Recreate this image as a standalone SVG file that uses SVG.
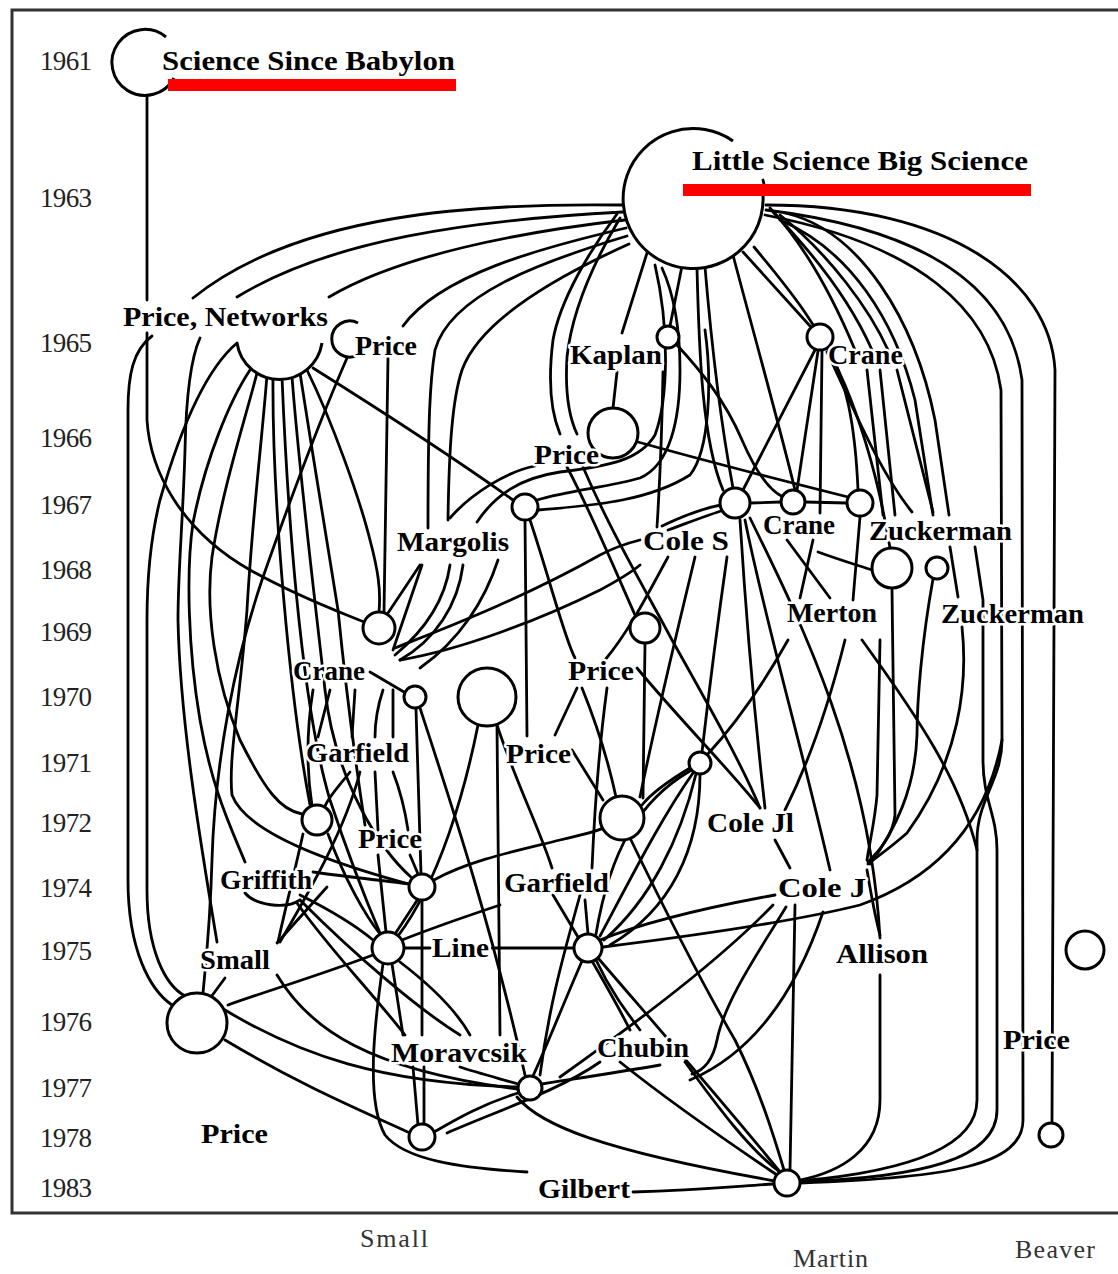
<svg xmlns="http://www.w3.org/2000/svg" width="1118" height="1274" viewBox="0 0 1118 1274">
<style>
.e{fill:none;stroke:#000;stroke-width:2.8;stroke-linecap:round}
.n{fill:#fff;stroke:#000;stroke-width:3}
.lb{font-family:"Liberation Serif",serif;font-size:28px;font-weight:bold;fill:#000;stroke:#fff;stroke-width:5px;paint-order:stroke;stroke-linejoin:round}
.yr{font-family:"Liberation Serif",serif;font-size:27px;fill:#222}
.ax{font-family:"Liberation Serif",serif;font-size:26px;fill:#333}
.hl{fill:#ff0000}
</style>
<rect width="1118" height="1274" fill="#fff"/>
<g id="frame"><path d="M1118,10 H12 V1213 H1118" fill="none" stroke="#333" stroke-width="3"/></g>
<g id="years">
<text class="yr" x="40" y="70" textLength="52">1961</text>
<text class="yr" x="40" y="207" textLength="52">1963</text>
<text class="yr" x="40" y="352" textLength="52">1965</text>
<text class="yr" x="40" y="447" textLength="52">1966</text>
<text class="yr" x="40" y="514" textLength="52">1967</text>
<text class="yr" x="40" y="579" textLength="52">1968</text>
<text class="yr" x="40" y="641" textLength="52">1969</text>
<text class="yr" x="40" y="706" textLength="52">1970</text>
<text class="yr" x="40" y="772" textLength="52">1971</text>
<text class="yr" x="40" y="832" textLength="52">1972</text>
<text class="yr" x="40" y="897" textLength="52">1974</text>
<text class="yr" x="40" y="960" textLength="52">1975</text>
<text class="yr" x="40" y="1031" textLength="52">1976</text>
<text class="yr" x="40" y="1097" textLength="52">1977</text>
<text class="yr" x="40" y="1147" textLength="52">1978</text>
<text class="yr" x="40" y="1197" textLength="52">1983</text>
</g>
<g id="connectors" class="e">
<path d="M147,95 L147,300"/>
<path d="M147,333 L147,420 C150,470 180,530 250,570 C300,598 340,612 364,622"/>
<path d="M152,336 C133,350 128,375 128,410 L128,880 C128,950 150,990 172,1005"/>
<path d="M237,343 C205,370 180,430 160,500 C150,540 147,580 147,620 L147,890 C147,950 165,985 185,996"/>
<path d="M200,338 C190,360 186,400 185,450 C183,520 178,570 178,620 C180,720 200,840 217,942"/>
<path d="M250,370 C230,400 205,460 193,523 C186,570 188,650 200,720 C212,790 232,830 245,862"/>
<path d="M257,373 C245,420 222,490 212,557 C205,610 215,680 240,740 C265,790 280,810 302,814"/>
<path d="M267,375 C262,440 252,520 247,610 C240,700 228,760 232,795 C245,830 320,860 409,884"/>
<path d="M273,377 C272,500 290,700 310,805"/>
<path d="M282,377 C287,500 300,700 330,800 C350,860 368,905 380,933"/>
<path d="M292,377 C300,480 315,600 325,690 C335,780 380,850 412,878"/>
<path d="M300,373 C313,457 330,560 338,610 C345,680 355,760 365,825"/>
<path d="M307,370 C333,423 360,500 370,540 C378,570 381,590 379,612"/>
<path d="M313,368 C380,410 450,455 513,500"/>
<path d="M347,358 C320,420 290,500 262,580 C235,660 215,760 212,860 C210,930 205,970 203,993"/>
<path d="M388,358 L384,612"/>
<path d="M622,205 C480,203 300,212 193,298"/>
<path d="M623,212 C470,220 330,240 237,297"/>
<path d="M625,220 C520,232 400,255 329,297"/>
<path d="M626,228 C540,248 440,275 403,326"/>
<path d="M627,236 C540,262 450,295 435,350 C430,380 428,420 428,528"/>
<path d="M629,244 C560,275 480,320 462,370 C452,400 449,450 448,520"/>
<path d="M617,214 C590,250 560,300 553,340 C548,380 550,410 560,434"/>
<path d="M620,218 C595,260 572,310 567,357 C565,390 568,415 577,434"/>
<path d="M567,467 C590,510 615,570 635,615"/>
<path d="M583,467 C610,530 640,580 672,640 C700,690 740,760 760,808"/>
<path d="M450,518 C470,495 505,472 535,466"/>
<path d="M477,522 C495,495 520,478 560,472 C610,466 640,460 655,435 C668,400 670,330 655,265"/>
<path d="M537,500 C570,490 610,487 640,478 C670,465 680,420 680,370 C680,320 672,290 662,268"/>
<path d="M538,510 C600,505 650,500 690,475 C710,450 712,380 705,330"/>
<path d="M647,253 L622,333"/>
<path d="M682,266 L670,326"/>
<path d="M617,372 L613,408"/>
<path d="M663,372 C662,430 660,480 657,527"/>
<path d="M677,345 C700,370 725,400 742,440 C755,470 768,490 783,497"/>
<path d="M697,268 C699,350 702,440 723,490"/>
<path d="M705,267 C712,350 722,430 733,488"/>
<path d="M733,255 C750,320 778,420 795,490"/>
<path d="M743,252 L810,326"/>
<path d="M754,247 C790,290 822,330 845,385 C868,440 882,500 890,548"/>
<path d="M766,205 C950,205 1050,280 1055,370 L1052,1123"/>
<path d="M766,210 C930,230 1010,290 1022,380 L1023,1120 C1023,1165 950,1178 800,1183"/>
<path d="M765,215 C920,245 990,310 1001,390 L1002,740 C1002,780 977,800 977,840 L977,1100 C977,1150 900,1172 800,1181"/>
<path d="M975,547 L983,600 L983,760 C983,800 997,815 997,850 L997,1110 C997,1160 920,1177 800,1182"/>
<path d="M770,208 C800,240 830,290 855,350"/>
<path d="M773,212 C810,250 850,300 872,350"/>
<path d="M780,215 C830,255 870,310 888,350"/>
<path d="M785,213 C860,230 915,320 935,420 L949,515"/>
<path d="M780,220 C850,250 895,320 915,400 L933,515"/>
<path d="M867,370 L883,515"/>
<path d="M880,370 L895,515"/>
<path d="M897,370 L933,512"/>
<path d="M815,350 L743,490"/>
<path d="M818,351 L797,490"/>
<path d="M822,351 L820,513"/>
<path d="M830,352 C845,380 855,420 858,490"/>
<path d="M827,352 C850,400 878,470 912,512"/>
<path d="M638,442 C720,465 800,485 848,497"/>
<path d="M750,503 L781,502"/>
<path d="M805,502 L847,503"/>
<path d="M787,540 L830,598"/>
<path d="M813,540 L800,598"/>
<path d="M818,552 C840,560 860,566 872,570"/>
<path d="M860,517 L853,600"/>
<path d="M892,588 C893,680 895,780 895,815 C893,835 880,850 868,862"/>
<path d="M933,579 C922,640 917,700 917,735 C915,790 895,830 870,864"/>
<path d="M962,627 C968,683 960,760 907,833 C890,848 878,856 868,864"/>
<path d="M950,547 L958,597"/>
<path d="M788,640 C760,690 730,730 707,755"/>
<path d="M845,640 C830,700 810,760 785,810"/>
<path d="M862,640 C920,720 960,780 977,850"/>
<path d="M880,640 L877,795 C875,820 870,840 867,860"/>
<path d="M668,557 C650,590 630,630 605,660"/>
<path d="M695,557 C680,620 660,700 640,797"/>
<path d="M727,557 C718,620 708,700 702,752"/>
<path d="M740,520 C745,600 755,720 765,808"/>
<path d="M745,520 C765,620 800,740 830,870"/>
<path d="M750,518 C800,620 870,760 880,938"/>
<path d="M395,648 C440,630 520,600 600,555 C615,547 628,543 640,540"/>
<path d="M400,660 C460,650 540,620 600,590 C615,582 628,575 640,565"/>
<path d="M662,526 C685,515 705,508 721,505"/>
<path d="M668,530 C690,522 708,515 724,510"/>
<path d="M525,520 L527,736"/>
<path d="M530,520 C550,580 565,640 575,658"/>
<path d="M645,643 L643,798"/>
<path d="M637,668 C680,720 730,770 760,808"/>
<path d="M577,688 L555,735"/>
<path d="M582,688 C595,720 608,760 616,797"/>
<path d="M607,688 C600,740 595,800 592,868"/>
<path d="M478,725 C465,790 440,880 398,936"/>
<path d="M497,725 C515,780 540,830 552,868"/>
<path d="M497,726 L500,1035"/>
<path d="M370,672 L404,692"/>
<path d="M420,708 C450,800 490,920 525,1075"/>
<path d="M416,709 L421,874"/>
<path d="M388,613 L420,565"/>
<path d="M422,565 C410,600 400,630 393,650"/>
<path d="M450,565 C445,600 425,630 395,655"/>
<path d="M463,565 C458,605 435,640 400,660"/>
<path d="M498,560 C485,600 460,640 420,668"/>
<path d="M313,690 C305,740 308,780 312,806"/>
<path d="M330,690 L318,737"/>
<path d="M355,690 L352,737"/>
<path d="M383,690 C378,705 375,720 375,737"/>
<path d="M393,690 L393,737"/>
<path d="M350,772 C340,785 330,795 325,806"/>
<path d="M360,772 C345,830 310,890 280,942"/>
<path d="M375,772 L378,830"/>
<path d="M393,772 C400,790 405,810 408,830"/>
<path d="M303,834 C295,870 285,910 278,942"/>
<path d="M328,834 C345,880 365,915 380,934"/>
<path d="M313,872 C340,876 380,880 409,884"/>
<path d="M300,895 C330,910 355,925 373,940"/>
<path d="M245,893 C255,905 285,910 300,900"/>
<path d="M300,900 C360,960 420,1010 460,1035"/>
<path d="M297,903 C330,950 370,990 405,1035"/>
<path d="M277,943 L327,887"/>
<path d="M373,955 C320,975 270,990 228,1005"/>
<path d="M386,932 L378,855"/>
<path d="M395,934 L418,899"/>
<path d="M402,940 C440,925 470,915 500,905"/>
<path d="M404,948 L430,948"/>
<path d="M492,948 L574,948"/>
<path d="M383,964 C375,1020 365,1100 385,1135 C405,1160 460,1168 527,1172"/>
<path d="M392,964 L403,1035"/>
<path d="M400,962 C430,985 455,1008 470,1035"/>
<path d="M422,900 L422,1035"/>
<path d="M434,880 C470,860 520,850 560,840 C590,833 600,830 603,828"/>
<path d="M410,855 L418,874"/>
<path d="M600,940 C650,920 720,905 775,895"/>
<path d="M603,947 C700,935 800,920 860,905 C930,880 985,830 1002,740"/>
<path d="M690,771 C640,800 610,850 596,934"/>
<path d="M693,773 C660,820 630,880 600,936"/>
<path d="M696,774 C680,840 650,900 604,940"/>
<path d="M700,774 C700,850 670,910 610,945"/>
<path d="M690,768 C670,780 650,795 642,805"/>
<path d="M588,934 L585,900"/>
<path d="M598,958 C660,1030 730,1110 780,1172"/>
<path d="M596,960 C610,990 625,1010 640,1030"/>
<path d="M582,961 C565,1000 545,1050 533,1076"/>
<path d="M447,1133 C500,1110 560,1090 600,1062"/>
<path d="M630,838 C660,900 700,980 735,1040 C760,1090 775,1140 784,1170"/>
<path d="M572,750 L603,800"/>
<path d="M775,840 L790,868"/>
<path d="M795,905 L790,1170"/>
<path d="M786,907 C760,950 725,1000 717,1040 C713,1060 705,1070 692,1074"/>
<path d="M823,912 C800,980 760,1050 690,1080"/>
<path d="M773,905 C720,960 640,1020 560,1077"/>
<path d="M867,870 C872,900 876,920 880,935"/>
<path d="M880,975 L880,1100 C880,1150 840,1172 800,1180"/>
<path d="M620,1062 C680,1110 740,1150 777,1175"/>
<path d="M685,1062 C720,1110 750,1150 780,1172"/>
<path d="M413,1067 L418,1125"/>
<path d="M424,1067 L424,1124"/>
<path d="M460,1067 C475,1072 490,1076 518,1084"/>
<path d="M518,1093 C480,1105 455,1120 434,1132"/>
<path d="M542,1084 C580,1078 620,1072 660,1065"/>
<path d="M517,1097 C540,1125 600,1150 775,1181"/>
<path d="M225,1010 C300,1055 380,1083 517,1087"/>
<path d="M225,1040 C300,1085 360,1110 410,1133"/>
<path d="M277,975 C310,1030 370,1070 517,1089"/>
<path d="M633,1192 C700,1190 740,1186 774,1184"/>
<path d="M211,997 L225,978"/>
<path d="M553,895 C580,940 610,990 630,1030"/>
<path d="M580,895 C565,950 550,1000 540,1075"/>
<path d="M763,180 L766,193"/>
</g>
<g id="n-ssb"><path class="n" d="M166,37 A33,33 0 1,0 174,78"/><text class="lb" x="162" y="70" textLength="293" lengthAdjust="spacingAndGlyphs">Science Since Babylon</text></g>
<g id="n-lsbs"><path class="n" d="M733,141 A70,70 0 1,0 762,186"/><text class="lb" x="692" y="170" textLength="336" lengthAdjust="spacingAndGlyphs">Little Science Big Science</text></g>
<g id="n-pricenetworks"><path class="n" d="M237,343 A43,43 0 0,0 322,343"/><text class="lb" x="123" y="326" textLength="205" lengthAdjust="spacingAndGlyphs">Price, Networks</text></g>
<g id="n-price65"><path class="n" d="M358,323 A18,18 0 1,0 358,355"/><text class="lb" x="355" y="355" textLength="62" lengthAdjust="spacingAndGlyphs">Price</text></g>
<g id="n-kaplan"><circle class="n" cx="668" cy="337" r="11"/><text class="lb" x="570" y="364" textLength="92" lengthAdjust="spacingAndGlyphs">Kaplan</text></g>
<g id="n-crane65"><circle class="n" cx="820" cy="337" r="13"/><text class="lb" x="828" y="364" textLength="75" lengthAdjust="spacingAndGlyphs">Crane</text></g>
<g id="n-price66"><circle class="n" cx="613" cy="433" r="25"/><text class="lb" x="534" y="464" textLength="65" lengthAdjust="spacingAndGlyphs">Price</text></g>
<g id="n-margolis"><circle class="n" cx="525" cy="507" r="13"/><text class="lb" x="397" y="551" textLength="112" lengthAdjust="spacingAndGlyphs">Margolis</text></g>
<g id="n-coles"><circle class="n" cx="735" cy="503" r="15"/><text class="lb" x="643" y="550" textLength="86" lengthAdjust="spacingAndGlyphs">Cole S</text></g>
<g id="n-crane67"><circle class="n" cx="793" cy="502" r="12"/><text class="lb" x="763" y="534" textLength="72" lengthAdjust="spacingAndGlyphs">Crane</text></g>
<g id="n-zuckerman67"><circle class="n" cx="860" cy="503" r="13"/><text class="lb" x="869" y="540" textLength="143" lengthAdjust="spacingAndGlyphs">Zuckerman</text></g>
<g id="n-zuckerman68"><circle class="n" cx="892" cy="568" r="20"/><circle class="n" cx="937" cy="568" r="11"/><text class="lb" x="941" y="623" textLength="143" lengthAdjust="spacingAndGlyphs">Zuckerman</text></g>
<g id="n-merton"><text class="lb" x="787" y="622" textLength="90" lengthAdjust="spacingAndGlyphs">Merton</text></g>
<g id="n-crane69"><circle class="n" cx="379" cy="628" r="16"/><text class="lb" x="293" y="680" textLength="72" lengthAdjust="spacingAndGlyphs">Crane</text></g>
<g id="n-price69"><circle class="n" cx="645" cy="628" r="15"/><text class="lb" x="568" y="680" textLength="66" lengthAdjust="spacingAndGlyphs">Price</text></g>
<g id="n-1970a"><circle class="n" cx="415" cy="697" r="11"/></g>
<g id="n-1970b"><circle class="n" cx="487" cy="697" r="29"/></g>
<g id="n-garfield71"><text class="lb" x="306" y="762" textLength="103" lengthAdjust="spacingAndGlyphs">Garfield</text></g>
<g id="n-price71"><text class="lb" x="506" y="763" textLength="65" lengthAdjust="spacingAndGlyphs">Price</text></g>
<g id="n-1971"><circle class="n" cx="700" cy="763" r="11"/></g>
<g id="n-garfield72"><circle class="n" cx="317" cy="820" r="15"/></g>
<g id="n-1972"><circle class="n" cx="622" cy="818" r="22"/></g>
<g id="n-colej1"><text class="lb" x="707" y="832" textLength="87" lengthAdjust="spacingAndGlyphs">Cole Jl</text></g>
<g id="n-price72"><text class="lb" x="358" y="848" textLength="64" lengthAdjust="spacingAndGlyphs">Price</text></g>
<g id="n-1974"><circle class="n" cx="422" cy="887" r="13"/></g>
<g id="n-griffith"><text class="lb" x="220" y="889" textLength="92" lengthAdjust="spacingAndGlyphs">Griffith</text></g>
<g id="n-garfield74"><text class="lb" x="504" y="892" textLength="105" lengthAdjust="spacingAndGlyphs">Garfield</text></g>
<g id="n-colej2"><text class="lb" x="778" y="897" textLength="88" lengthAdjust="spacingAndGlyphs">Cole J</text></g>
<g id="n-line"><circle class="n" cx="388" cy="948" r="16"/><text class="lb" x="432" y="957" textLength="57" lengthAdjust="spacingAndGlyphs">Line</text></g>
<g id="n-1975"><circle class="n" cx="588" cy="948" r="14"/></g>
<g id="n-small"><text class="lb" x="200" y="969" textLength="70" lengthAdjust="spacingAndGlyphs">Small</text></g>
<g id="n-allison"><text class="lb" x="836" y="963" textLength="92" lengthAdjust="spacingAndGlyphs">Allison</text></g>
<g id="n-iso"><circle class="n" cx="1085" cy="950" r="19"/></g>
<g id="n-1976"><circle class="n" cx="197" cy="1023" r="30"/></g>
<g id="n-price-right"><text class="lb" x="1003" y="1049" textLength="67" lengthAdjust="spacingAndGlyphs">Price</text></g>
<g id="n-moravcsik"><text class="lb" x="391" y="1062" textLength="136" lengthAdjust="spacingAndGlyphs">Moravcsik</text></g>
<g id="n-chubin"><text class="lb" x="597" y="1057" textLength="92" lengthAdjust="spacingAndGlyphs">Chubin</text></g>
<g id="n-1977"><circle class="n" cx="530" cy="1088" r="12"/></g>
<g id="n-1978"><circle class="n" cx="422" cy="1137" r="13"/></g>
<g id="n-price78"><text class="lb" x="201" y="1143" textLength="67" lengthAdjust="spacingAndGlyphs">Price</text></g>
<g id="n-beaver"><circle class="n" cx="1051" cy="1135" r="12"/></g>
<g id="n-gilbert"><text class="lb" x="538" y="1198" textLength="92" lengthAdjust="spacingAndGlyphs">Gilbert</text></g>
<g id="n-martin"><circle class="n" cx="787" cy="1183" r="13"/></g>
<g id="highlights"><rect class="hl" x="168" y="79" width="288" height="12"/><rect class="hl" x="683" y="184" width="348" height="12"/></g>
<g id="axis-labels">
<text class="ax" x="360" y="1247" textLength="68">Small</text>
<text class="ax" x="793" y="1267" textLength="75">Martin</text>
<text class="ax" x="1015" y="1258" textLength="80">Beaver</text>
</g>
</svg>
